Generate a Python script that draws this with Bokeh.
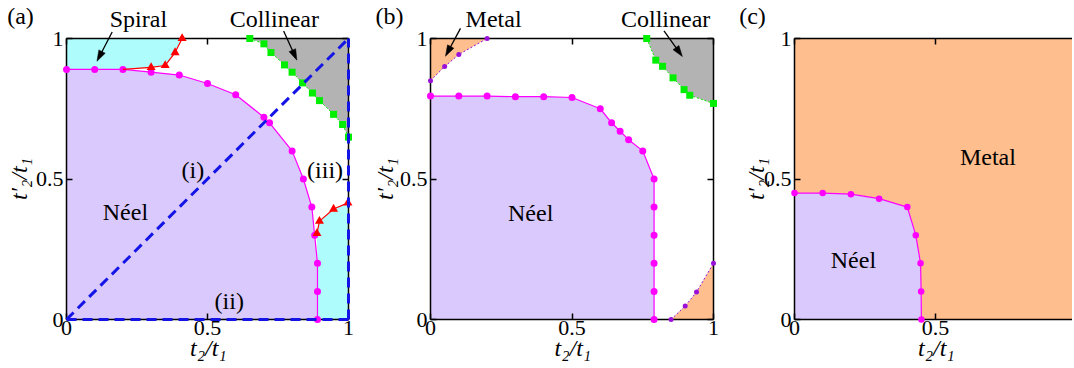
from math import pi, hypot
from bokeh.plotting import figure
from bokeh.layouts import row
from bokeh.models import LinearAxis, FixedTicker, Range1d
from bokeh.core.properties import value
from bokeh.embed import file_html
from bokeh.resources import INLINE

# ---------------- data ----------------
# panel (a)
neel_a_x = [0.0, 0.1, 0.2, 0.3, 0.4, 0.5, 0.6, 0.7, 0.72, 0.8, 0.84, 0.87, 0.88, 0.89, 0.89, 0.89]
neel_a_y = [0.89, 0.89, 0.89, 0.88, 0.87, 0.84, 0.80, 0.72, 0.70, 0.60, 0.50, 0.40, 0.30, 0.20, 0.10, 0.0]
spiral_top_x = [0.2, 0.30, 0.35, 0.385, 0.41]
spiral_top_y = [0.89, 0.897, 0.904, 0.95, 1.0]
spiral_bot_x = [0.888, 0.897, 0.947, 0.998]
spiral_bot_y = [0.306, 0.35, 0.393, 0.415]
col_a_x = [0.65, 0.70, 0.725, 0.773, 0.80, 0.837, 0.872, 0.897, 0.947, 0.979, 1.0]
col_a_y = [1.0, 0.981, 0.95, 0.906, 0.88, 0.842, 0.806, 0.779, 0.73, 0.694, 0.649]
path_i_x, path_i_y = [0.0, 1.0], [0.0, 1.0]
path_ii_x, path_ii_y = [0.0, 1.0], [0.0, 0.0]
path_iii_x, path_iii_y = [1.0, 1.0], [0.0, 1.0]

# panel (b)
neel_b_x = [0.0, 0.1, 0.2, 0.3, 0.4, 0.5, 0.6, 0.64, 0.67, 0.70, 0.75, 0.79, 0.79, 0.79, 0.79, 0.79, 0.79]
neel_b_y = [0.795, 0.795, 0.795, 0.793, 0.793, 0.79, 0.75, 0.70, 0.67, 0.64, 0.60, 0.50, 0.40, 0.30, 0.20, 0.10, 0.0]
metal_top_x = [0.0, 0.05, 0.1, 0.2]
metal_top_y = [0.85, 0.90, 0.943, 1.0]
metal_bot_x = [0.85, 0.90, 0.94, 1.0]
metal_bot_y = [0.0, 0.048, 0.098, 0.2]
col_b_x = [0.764, 0.796, 0.82, 0.857, 0.896, 0.916, 1.0]
col_b_y = [1.0, 0.923, 0.901, 0.86, 0.818, 0.798, 0.769]

# panel (c)
neel_c_x = [0.0, 0.1, 0.2, 0.3, 0.4, 0.43, 0.447, 0.449, 0.45]
neel_c_y = [0.45, 0.45, 0.446, 0.43, 0.40, 0.30, 0.20, 0.10, 0.0]

tick_values = [0, 0.5, 1]
tick_labels = ["0", "0.5", "1"]

# ---------------- style ----------------
SERIF = "'Liberation Serif', 'Times New Roman', Times, 'DejaVu Serif', serif"
C_NEEL = "#dac9fd"
C_CYAN = "#aefcfc"
C_GRAY = "#b3b3b3"
C_ORANGE = "#ffbe8e"
C_MAG = "#ff00ff"
C_RED = "#ff0000"
C_GREEN = "#00ee00"
C_PURPLE = "#9a10d8"
C_BLUE = "#1414e6"
FS = "24px"
OV = "overlay"
PX = 282.0  # pixels per data unit (frame scale)


def style_axis(ax, show, standoff=2):
    ax.ticker = FixedTicker(ticks=tick_values)
    ax.major_tick_in = 6
    ax.major_tick_out = 0
    ax.minor_tick_in = 0
    ax.minor_tick_out = 0
    ax.axis_line_color = "black"
    ax.axis_line_width = 1.5
    ax.major_tick_line_color = "black"
    ax.major_tick_line_width = 1.5
    ax.major_label_text_font = SERIF
    ax.major_label_text_color = "black"
    ax.major_label_standoff = standoff
    if show:
        ax.major_label_text_font_size = "22px"
        ax.major_label_overrides = {v: s for v, s in zip(tick_values, tick_labels)}
    else:
        ax.major_label_text_font_size = "0px"
        ax.major_label_overrides = {v: "" for v in tick_values}


def make_fig(width, left, right, xmax, right_axis=True):
    p = figure(width=width, height=366, x_range=Range1d(0, xmax), y_range=Range1d(0, 1),
               output_backend="svg", toolbar_location=None,
               min_border_left=left, min_border_right=right,
               min_border_top=38, min_border_bottom=47)
    p.grid.visible = False
    p.outline_line_color = None
    p.background_fill_color = "white"
    p.border_fill_color = "white"
    style_axis(p.xaxis[0], True, standoff=1)
    style_axis(p.yaxis[0], True, standoff=3)
    top = LinearAxis()
    style_axis(top, False)
    p.add_layout(top, "above")
    if right_axis:
        r = LinearAxis()
        style_axis(r, False)
        p.add_layout(r, "right")
    return p


def text(p, x, y, s, size=FS, italic=False, angle=0.0):
    p.text(x=[x], y=[y], text=[s], text_font=value(SERIF), text_font_size=size,
           text_font_style="italic" if italic else "normal",
           text_align="center", text_baseline="middle", angle=angle,
           text_color="black", level=OV)


def arrow(p, x0, y0, x1, y1, head_len=11.0, head_w=3.6):
    # shaft + filled head, geometry computed in pixel space from the arrow endpoints
    dx, dy = (x1 - x0) * PX, (y1 - y0) * PX
    L = hypot(dx, dy)
    ux, uy = dx / L, dy / L
    nx, ny = -uy, ux
    bx, by = -ux * head_len, -uy * head_len
    hx = [x1, x1 + (bx + nx * head_w) / PX, x1 + (bx - nx * head_w) / PX]
    hy = [y1, y1 + (by + ny * head_w) / PX, y1 + (by - ny * head_w) / PX]
    p.line([x0, x1 + bx * 0.8 / PX], [y0, y1 + by * 0.8 / PX], line_color="black", line_width=1.3, level=OV)
    p.patch(hx, hy, fill_color="black", line_color="black", line_width=0.5, level=OV)


def axis_labels(p, yx):
    text(p, 0.503, -0.10, "t₂/t₁", italic=True)
    text(p, yx, 0.5, "t′₂/t₁", italic=True, angle=pi / 2)


# ---------------- panel (a) ----------------
pa = make_fig(370, 66, 22, 1.0)
pa.patch(neel_a_x + [0.0], neel_a_y + [0.0], fill_color=C_NEEL, line_color=None)
pa.patch([0.0, 0.0, 0.1] + spiral_top_x, [1.0, 0.89, 0.89] + spiral_top_y, fill_color=C_CYAN, line_color=None)
pa.patch(neel_a_x[-3:][::-1] + spiral_bot_x + [1.0, 1.0],
         neel_a_y[-3:][::-1] + spiral_bot_y + [spiral_bot_y[-1], 0.0],
         fill_color=C_CYAN, line_color=None)
pa.patch(col_a_x + [1.0], col_a_y + [1.0], fill_color=C_GRAY, line_color=None)

pa.line(neel_a_x, neel_a_y, line_color=C_MAG, line_width=1.2, level=OV)
pa.scatter(neel_a_x, neel_a_y, marker="circle", size=7, fill_color=C_MAG, line_color=None, level=OV)
pa.line(spiral_top_x, spiral_top_y, line_color=C_RED, line_width=1.2, level=OV)
pa.scatter(spiral_top_x[1:], spiral_top_y[1:], marker="triangle", size=9, fill_color=C_RED, line_color=None, level=OV)
pa.line(spiral_bot_x, spiral_bot_y, line_color=C_RED, line_width=1.2, level=OV)
pa.scatter(spiral_bot_x, spiral_bot_y, marker="triangle", size=9, fill_color=C_RED, line_color=None, level=OV)
pa.line(col_a_x, col_a_y, line_color=C_GREEN, line_width=1, line_dash="2 2", level=OV)
pa.scatter(col_a_x, col_a_y, marker="square", size=7, fill_color=C_GREEN, line_color=None, level=OV)
for xs, ys in [(path_i_x, path_i_y), (path_ii_x, path_ii_y), (path_iii_x, path_iii_y)]:
    pa.line(xs, ys, line_color=C_BLUE, line_width=3, line_dash="10 6", level=OV)

text(pa, -0.163, 1.079, "(a)")
text(pa, 0.255, 1.069, "Spiral")
text(pa, 0.737, 1.069, "Collinear")
text(pa, 0.448, 0.531, "(i)")
text(pa, 0.577, 0.065, "(ii)")
text(pa, 0.917, 0.531, "(iii)")
text(pa, 0.209, 0.384, "Néel")
arrow(pa, 0.162, 1.023, 0.108, 0.919)
arrow(pa, 0.770, 1.027, 0.817, 0.923)
axis_labels(pa, -0.17)

# ---------------- panel (b) ----------------
pb = make_fig(370, 60, 27, 1.0)
pb.patch(neel_b_x + [0.0], neel_b_y + [0.0], fill_color=C_NEEL, line_color=None)
pb.patch(metal_top_x + [0.0], metal_top_y + [1.0], fill_color=C_ORANGE, line_color=None)
pb.patch(metal_bot_x + [1.0], metal_bot_y + [0.0], fill_color=C_ORANGE, line_color=None)
pb.patch(col_b_x + [1.0], col_b_y + [1.0], fill_color=C_GRAY, line_color=None)

pb.line(neel_b_x, neel_b_y, line_color=C_MAG, line_width=1.2, level=OV)
pb.scatter(neel_b_x, neel_b_y, marker="circle", size=7, fill_color=C_MAG, line_color=None, level=OV)
for xs, ys in [(metal_top_x, metal_top_y), (metal_bot_x, metal_bot_y)]:
    pb.line(xs, ys, line_color=C_PURPLE, line_width=1, line_dash="2 2", level=OV)
    pb.scatter(xs, ys, marker="circle", size=5, fill_color=C_PURPLE, line_color=None, level=OV)
pb.line(col_b_x, col_b_y, line_color=C_GREEN, line_width=1, line_dash="2 2", level=OV)
pb.scatter(col_b_x, col_b_y, marker="square", size=7, fill_color=C_GREEN, line_color=None, level=OV)

text(pb, -0.145, 1.079, "(b)")
text(pb, 0.223, 1.069, "Metal")
text(pb, 0.831, 1.069, "Collinear")
text(pb, 0.354, 0.378, "Néel")
arrow(pb, 0.106, 1.036, 0.053, 0.937)
arrow(pb, 0.825, 1.027, 0.89, 0.936)
axis_labels(pb, -0.16)

# ---------------- panel (c) ----------------
pc = make_fig(332, 54, 0, 278 / PX, right_axis=False)
pc.patch(neel_c_x + [1.0, 1.0, 0.0], neel_c_y + [0.0, 1.0, 1.0], fill_color=C_ORANGE, line_color=None)
pc.patch(neel_c_x + [0.0], neel_c_y + [0.0], fill_color=C_NEEL, line_color=None)
pc.line(neel_c_x, neel_c_y, line_color=C_MAG, line_width=1.2, level=OV)
pc.scatter(neel_c_x, neel_c_y, marker="circle", size=6.5, fill_color=C_MAG, line_color=None, level=OV)

text(pc, -0.149, 1.079, "(c)")
text(pc, 0.686, 0.58, "Metal")
text(pc, 0.209, 0.213, "Néel")
axis_labels(pc, -0.138)

layout = row(pa, pb, pc)
open("out.html", "w").write(file_html(layout, INLINE))
